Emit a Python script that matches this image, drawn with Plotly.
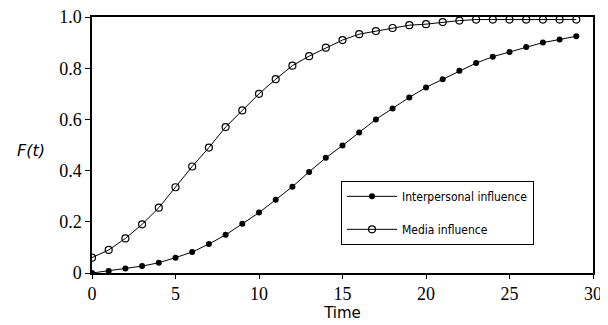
import plotly.graph_objects as go

time = list(range(30))
interpersonal = [0.0, 0.008, 0.018, 0.027, 0.04, 0.06, 0.082, 0.113, 0.149, 0.192,
                 0.236, 0.286, 0.337, 0.395, 0.45, 0.498, 0.549, 0.6, 0.643, 0.686,
                 0.725, 0.757, 0.79, 0.82, 0.845, 0.863, 0.883, 0.9, 0.912, 0.925]
media = [0.06, 0.09, 0.135, 0.19, 0.255, 0.335, 0.416, 0.49, 0.57, 0.635,
         0.70, 0.757, 0.81, 0.847, 0.88, 0.91, 0.933, 0.945, 0.957, 0.968,
         0.972, 0.98, 0.986, 0.99, 0.99, 0.99, 0.99, 0.99, 0.99, 0.99]
xticks = [0, 5, 10, 15, 20, 25, 30]
yticks = [0, 0.2, 0.4, 0.6, 0.8, 1.0]
yticklabels = ["0", "0.2", "0.4", "0.6", "0.8", "1.0"]

SERIF = "Liberation Serif"

fig = go.Figure()
fig.add_trace(go.Scatter(x=time, y=interpersonal, mode="lines+markers",
                         name="Interpersonal influence", legendgroup="a",
                         line=dict(color="black", width=1),
                         marker=dict(symbol="circle", size=6, color="black")))
fig.add_trace(go.Scatter(x=time, y=media, mode="lines+markers",
                         name="Media influence", legendgroup="b",
                         line=dict(color="black", width=1),
                         marker=dict(symbol="circle-open", size=7, color="black",
                                     line=dict(width=1.2))))

fig.update_layout(
    width=600, height=317,
    font=dict(family=SERIF, size=18, color="black"),
    margin=dict(l=84, r=15, t=9, b=52, autoexpand=False),
    paper_bgcolor="white", plot_bgcolor="white",
    showlegend=True,
    legend=dict(x=0.497, y=0.36, xanchor="left", yanchor="top",
                bordercolor="black", borderwidth=1, bgcolor="white",
                font=dict(family="DejaVu Sans Condensed", size=12, color="black"),
                itemwidth=50, tracegroupgap=14),
    xaxis=dict(range=[0, 30], tickvals=xticks, ticks="outside", ticklen=4,
               tickcolor="black", showline=True, linecolor="black", linewidth=1.5,
               mirror=True, showgrid=False, zeroline=False, automargin=False,
               ticklabeloverflow="allow",
               tickfont=dict(family=SERIF, size=18, color="black"),
               title=dict(text="Time", standoff=0,
                          font=dict(family="DejaVu Sans", size=15, color="black"))),
    yaxis=dict(range=[0, 1.0], tickvals=yticks, ticktext=yticklabels,
               ticks="outside", ticklen=5, tickcolor="black", automargin=False,
               ticklabeloverflow="allow",
               showline=True, linecolor="black", linewidth=1.5, mirror=True,
               showgrid=False, zeroline=False,
               tickfont=dict(family=SERIF, size=18, color="black")),
)
fig.add_annotation(text="<i>F(t)</i>", xref="paper", yref="paper", x=-0.154, y=0.48,
                   xanchor="left", yanchor="middle", showarrow=False,
                   font=dict(family="DejaVu Sans", size=16, color="black"))

fig.write_html("out.html")
